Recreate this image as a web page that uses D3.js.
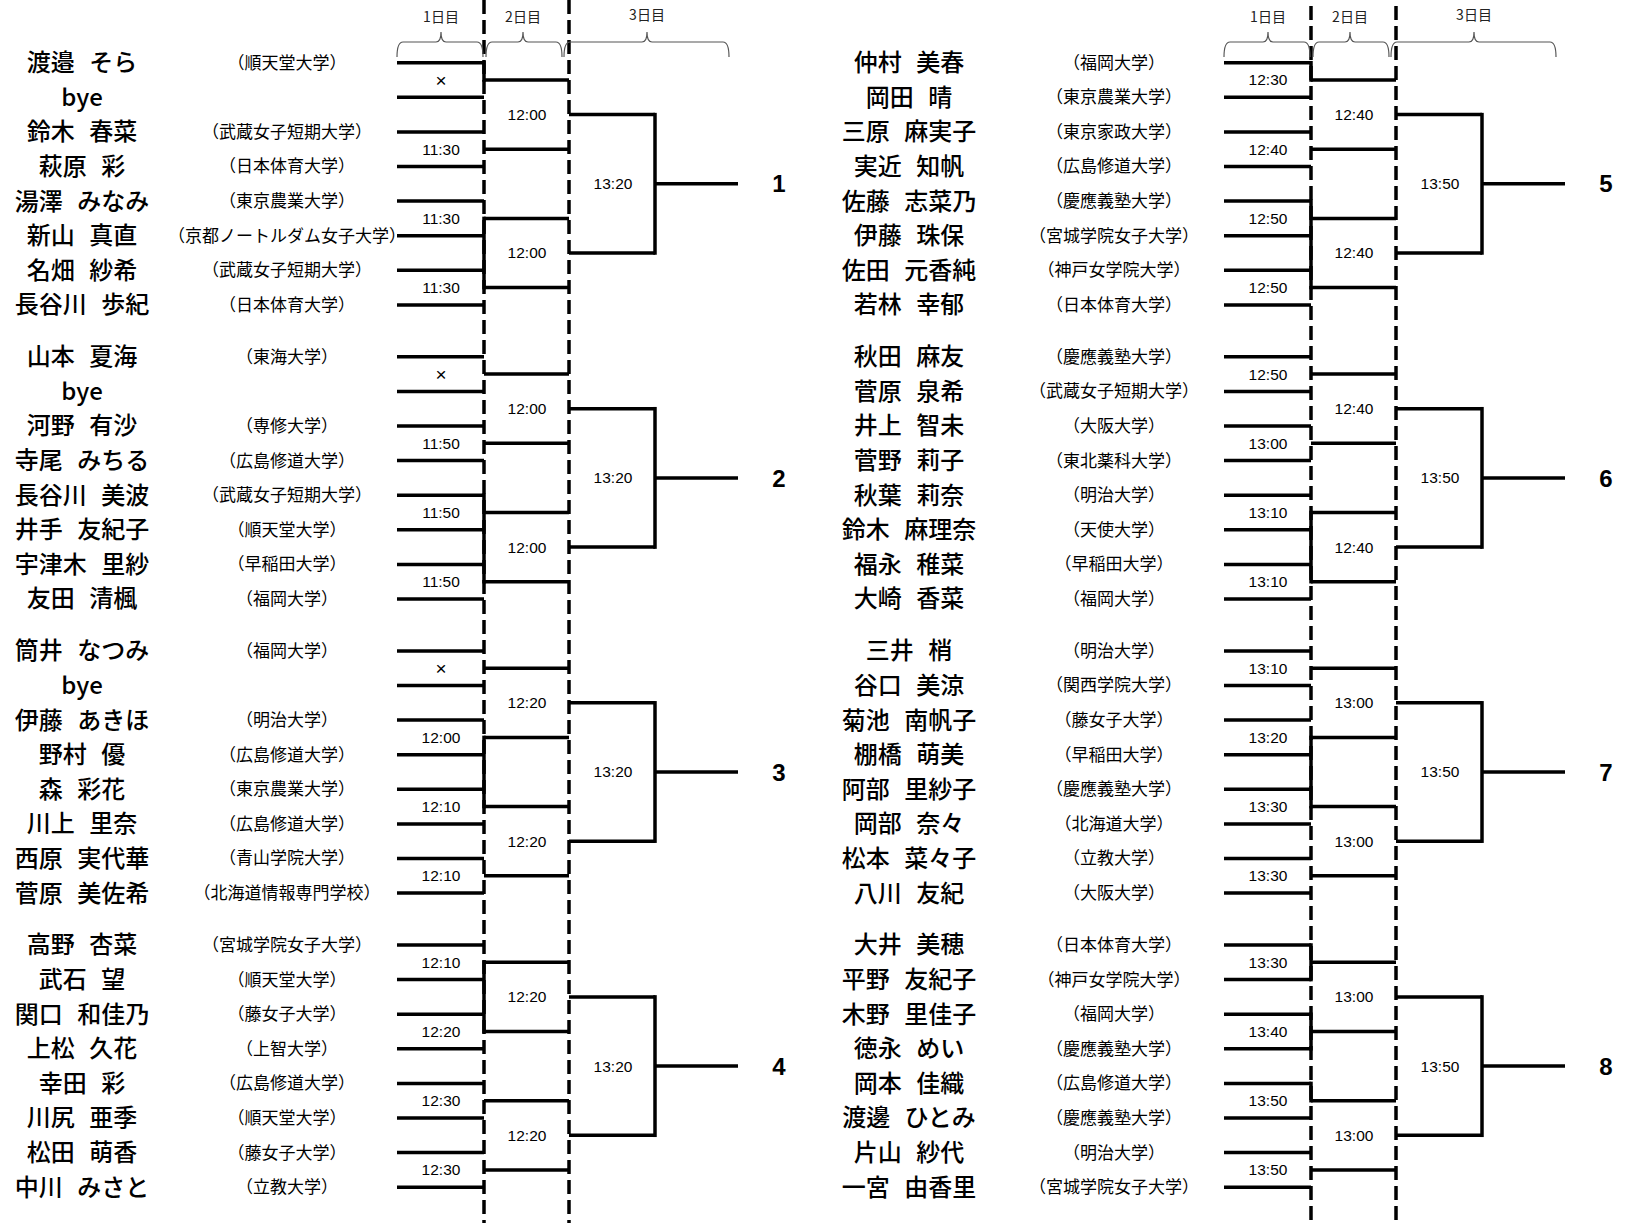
<!DOCTYPE html>
<meta charset="utf-8">
<html lang="ja">
<head>
  <title>トーナメント表</title>
  <script src="https://d3js.org/d3.v7.min.js"></script>
  <style>
    body { margin: 0; background: #fff; }
    .name { font-family: "Noto Sans CJK JP", sans-serif; font-size: 24px; font-weight: 500; word-spacing: 9px; }
    .school { font-family: "Noto Sans CJK JP", sans-serif; font-size: 17px; }
    .time { font-family: "Liberation Sans", Arial, sans-serif; font-size: 15.5px; }
    .day { font-family: "Noto Sans CJK JP", sans-serif; font-size: 14px; fill: #222; }
    .num { font-family: "Liberation Sans", Arial, sans-serif; font-size: 24px; font-weight: bold; }
  </style>
</head>
<body>
<div id="bracket"></div>
<script>
// players, top to bottom, one list per block of eight
var names = [
  ["渡邉 そら", "bye", "鈴木 春菜", "萩原 彩", "湯澤 みなみ", "新山 真直", "名畑 紗希", "長谷川 歩紀"],
  ["山本 夏海", "bye", "河野 有沙", "寺尾 みちる", "長谷川 美波", "井手 友紀子", "宇津木 里紗", "友田 清楓"],
  ["筒井 なつみ", "bye", "伊藤 あきほ", "野村 優", "森 彩花", "川上 里奈", "西原 実代華", "菅原 美佐希"],
  ["高野 杏菜", "武石 望", "関口 和佳乃", "上松 久花", "幸田 彩", "川尻 亜季", "松田 萌香", "中川 みさと"],
  ["仲村 美春", "岡田 晴", "三原 麻実子", "実近 知帆", "佐藤 志菜乃", "伊藤 珠保", "佐田 元香純", "若林 幸郁"],
  ["秋田 麻友", "菅原 泉希", "井上 智未", "菅野 莉子", "秋葉 莉奈", "鈴木 麻理奈", "福永 稚菜", "大崎 香菜"],
  ["三井 梢", "谷口 美涼", "菊池 南帆子", "棚橋 萌美", "阿部 里紗子", "岡部 奈々", "松本 菜々子", "八川 友紀"],
  ["大井 美穂", "平野 友紀子", "木野 里佳子", "徳永 めい", "岡本 佳織", "渡邊 ひとみ", "片山 紗代", "一宮 由香里"]
];
var schools = [
  ["（順天堂大学）", "", "（武蔵女子短期大学）", "（日本体育大学）", "（東京農業大学）", "（京都ノートルダム女子大学）", "（武蔵女子短期大学）", "（日本体育大学）"],
  ["（東海大学）", "", "（専修大学）", "（広島修道大学）", "（武蔵女子短期大学）", "（順天堂大学）", "（早稲田大学）", "（福岡大学）"],
  ["（福岡大学）", "", "（明治大学）", "（広島修道大学）", "（東京農業大学）", "（広島修道大学）", "（青山学院大学）", "（北海道情報専門学校）"],
  ["（宮城学院女子大学）", "（順天堂大学）", "（藤女子大学）", "（上智大学）", "（広島修道大学）", "（順天堂大学）", "（藤女子大学）", "（立教大学）"],
  ["（福岡大学）", "（東京農業大学）", "（東京家政大学）", "（広島修道大学）", "（慶應義塾大学）", "（宮城学院女子大学）", "（神戸女学院大学）", "（日本体育大学）"],
  ["（慶應義塾大学）", "（武蔵女子短期大学）", "（大阪大学）", "（東北薬科大学）", "（明治大学）", "（天使大学）", "（早稲田大学）", "（福岡大学）"],
  ["（明治大学）", "（関西学院大学）", "（藤女子大学）", "（早稲田大学）", "（慶應義塾大学）", "（北海道大学）", "（立教大学）", "（大阪大学）"],
  ["（日本体育大学）", "（神戸女学院大学）", "（福岡大学）", "（慶應義塾大学）", "（広島修道大学）", "（慶應義塾大学）", "（明治大学）", "（宮城学院女子大学）"]
];
var round1Times = [
  ["×", "11:30", "11:30", "11:30"],
  ["×", "11:50", "11:50", "11:50"],
  ["×", "12:00", "12:10", "12:10"],
  ["12:10", "12:20", "12:30", "12:30"],
  ["12:30", "12:40", "12:50", "12:50"],
  ["12:50", "13:00", "13:10", "13:10"],
  ["13:10", "13:20", "13:30", "13:30"],
  ["13:30", "13:40", "13:50", "13:50"]
];
var round2Times = [
  ["12:00", "12:00"], ["12:00", "12:00"], ["12:20", "12:20"], ["12:20", "12:20"],
  ["12:40", "12:40"], ["12:40", "12:40"], ["13:00", "13:00"], ["13:00", "13:00"]
];
var round3Times = ["13:20", "13:20", "13:20", "13:20", "13:50", "13:50", "13:50", "13:50"];
var blockNumbers = ["1", "2", "3", "4", "5", "6", "7", "8"];
var dayLabels = ["1日目", "2日目", "3日目"];
// parts of the day-1 line drawn solid, as [from row, to row] inside a block
var solidDay1 = [
  [[0, 0.5], [4.5, 6.5]],
  [[4, 6.5]],
  [[2.5, 4.5]],
  [[0.5, 2.5]],
  [[0, 0.5], [4, 6.5]],
  [[4.5, 6.5]],
  [[2.5, 4.5]],
  [[0, 1], [2, 3], [4, 4.5]]
];

var width = 1629, height = 1223;

var svg = d3.select("#bracket").append("svg")
    .attr("width", width)
    .attr("height", height);

// row units -> pixels (blocks are 8.5 rows apart)
var y = d3.scaleLinear().domain([0, 1]).range([62.7, 97.3]);
var blockRow = function(b) { return (b % 4) * 8.5; };

// columns of one half, then shift for the right half
var x = d3.scaleOrdinal()
  .domain(["name", "school", "start", "t1", "day1", "t2", "day2", "t3", "day3", "end", "num", "b3end"])
  .range([82, 287, 397, 441, 484, 527, 569, 613, 655, 738, 779, 729]);
var side = d3.scaleOrdinal().domain([0, 1]).range([0, 827]);
var X = function(col, b) { return x(col) + side(b < 4 ? 0 : 1); };

var ink = "#000", lw = 3.5;

function hline(x1, x2, yy) {
  svg.append("line").attr("x1", x1).attr("x2", x2).attr("y1", yy).attr("y2", yy)
    .attr("stroke", ink).attr("stroke-width", lw);
}
function vline(xx, y1, y2) {
  svg.append("line").attr("x1", xx).attr("x2", xx).attr("y1", y1).attr("y2", y2)
    .attr("stroke", ink).attr("stroke-width", lw).attr("stroke-linecap", "square");
}

// day separators
[0, 4].forEach(function(b) {
  ["day1", "day2"].forEach(function(c) {
    svg.append("line")
      .attr("x1", X(c, b)).attr("x2", X(c, b))
      .attr("y1", b < 4 ? 0 : 6).attr("y2", height)
      .attr("stroke", ink).attr("stroke-width", lw)
      .attr("stroke-dasharray", "14,6");
  });
});

// braces + day labels
[0, 4].forEach(function(b) {
  var spans = [[X("start", b), X("day1", b) - 1, X("t1", b)],
               [X("day1", b) + 2, X("day2", b) - 7, X("t2", b) - 4],
               [X("day2", b) - 5, X("b3end", b), X("t3", b) + 34]];
  spans.forEach(function(s, i) {
    var a = s[0], e = s[1], m = s[2], top = 42, bot = 57, tip = 32;
    var p = d3.path();
    p.moveTo(a, bot);
    p.quadraticCurveTo(a, top, a + 6, top);
    p.lineTo(m - 5, top);
    p.quadraticCurveTo(m, top, m, tip);
    p.quadraticCurveTo(m, top, m + 5, top);
    p.lineTo(e - 6, top);
    p.quadraticCurveTo(e, top, e, bot);
    svg.append("path").attr("d", p.toString())
      .attr("fill", "none").attr("stroke", "#555").attr("stroke-width", 1.2);
    svg.append("text").attr("class", "day")
      .attr("x", m).attr("y", i == 2 ? 15 : 17).attr("dy", "0.35em")
      .attr("text-anchor", "middle").text(dayLabels[i]);
  });
});

names.forEach(function(list, b) {
  var r0 = blockRow(b);

  // players
  list.forEach(function(n, i) {
    var yy = y(r0 + i);
    svg.append("text").attr("class", "name")
      .attr("x", X("name", b)).attr("y", yy).attr("dy", "0.35em")
      .attr("text-anchor", "middle").text(n);
    if (schools[b][i])
      svg.append("text").attr("class", "school")
        .attr("x", X("school", b)).attr("y", yy).attr("dy", "0.35em")
        .attr("text-anchor", "middle").text(schools[b][i]);
    hline(X("start", b), X("day1", b), yy);
  });

  // round 1 results go on to day 2
  round1Times[b].forEach(function(t, k) {
    var yy = y(r0 + 2 * k + 0.5);
    svg.append("text").attr("class", "time")
      .attr("x", X("t1", b)).attr("y", yy).attr("dy", "0.35em")
      .attr("text-anchor", "middle")
      .style("font-size", t == "×" ? "19px" : null)
      .text(t);
    hline(X("day1", b), X("day2", b), yy);
  });

  // round 2
  round2Times[b].forEach(function(t, k) {
    var yy = y(r0 + 4 * k + 1.5);
    svg.append("text").attr("class", "time")
      .attr("x", X("t2", b)).attr("y", yy).attr("dy", "0.35em")
      .attr("text-anchor", "middle").text(t);
    hline(X("day2", b), X("day3", b), yy);
  });

  // round 3
  vline(X("day3", b), y(r0 + 1.5), y(r0 + 5.5));
  hline(X("day3", b), X("end", b), y(r0 + 3.5));
  svg.append("text").attr("class", "time")
    .attr("x", X("t3", b)).attr("y", y(r0 + 3.5)).attr("dy", "0.35em")
    .attr("text-anchor", "middle").text(round3Times[b]);
  svg.append("text").attr("class", "num")
    .attr("x", X("num", b)).attr("y", y(r0 + 3.5)).attr("dy", "0.36em")
    .attr("text-anchor", "middle").text(blockNumbers[b]);

  // solid connectors over the dashed line
  solidDay1[b].forEach(function(s) { vline(X("day1", b), y(r0 + s[0]), y(r0 + s[1])); });
});
</script>
</body>
</html>
